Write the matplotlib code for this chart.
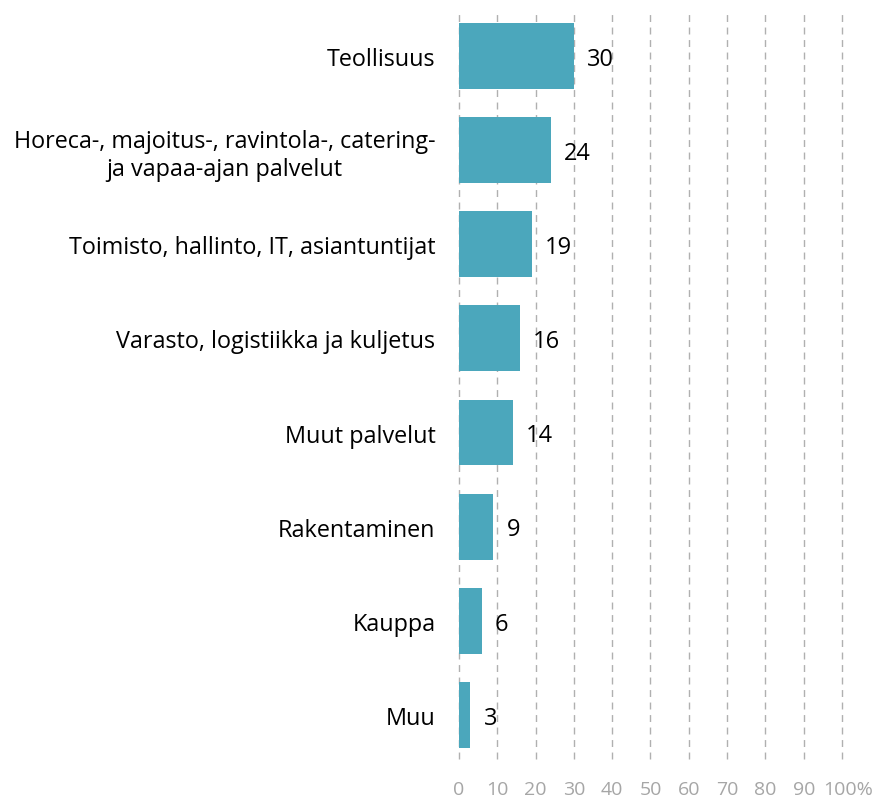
import matplotlib
matplotlib.use("Agg")
import matplotlib.pyplot as plt
from matplotlib.transforms import ScaledTranslation

categories = ["Teollisuus",
              "Horeca-, majoitus-, ravintola-, catering-\nja vapaa-ajan palvelut",
              "Toimisto, hallinto, IT, asiantuntijat",
              "Varasto, logistiikka ja kuljetus",
              "Muut palvelut",
              "Rakentaminen",
              "Kauppa",
              "Muu"]
values = [30, 24, 19, 16, 14, 9, 6, 3]
tick_vals = [0, 10, 20, 30, 40, 50, 60, 70, 80, 90, 100]
tick_labels = ["0", "10", "20", "30", "40", "50", "60", "70", "80", "90", "100%"]

plt.rcParams['font.family'] = ['Open Sans', 'DejaVu Sans']

fig = plt.figure(figsize=(8.78, 8.03), dpi=100)
ax = fig.add_axes([459/878, 43/803, 383/878, 750/803])

n = len(categories)
ypos = list(range(n))
ax.barh(ypos, values, height=0.7, color="#4BA7BC", zorder=2)
for y, v in zip(ypos, values):
    ax.text(v + 3.4, y + 0.03, str(v), va="center", ha="left", fontsize=17, color="black")

ax.set_xlim(0, 100)
ax.set_ylim(7.468, -0.499)
ax.set_yticks(ypos)
ax.set_yticklabels(categories, fontsize=16.8, color="black", multialignment="center")
ax.set_xticks(tick_vals)
ax.set_xticklabels(tick_labels, fontsize=14, color="#A6A6A6")
ax.tick_params(axis="y", length=0, pad=17)
ax.tick_params(axis="x", length=0, pad=15)
last = ax.get_xticklabels()[-1]
last.set_transform(last.get_transform() + ScaledTranslation(6/100, 0, fig.dpi_scale_trans))
for t in tick_vals:
    ax.axvline(t, color="#B0B0B0", linestyle=(0, (5, 4)), linewidth=1, zorder=1, clip_on=False)
for s in ax.spines.values():
    s.set_visible(False)

fig.savefig("out.png", dpi=100)
